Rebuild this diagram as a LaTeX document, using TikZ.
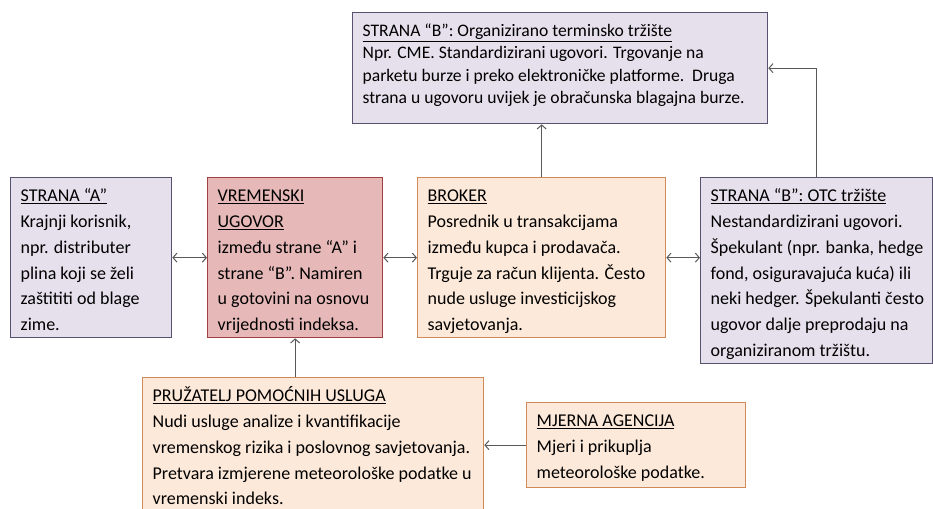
\documentclass[tikz,border=0pt]{standalone}
\usepackage{fontspec}
\setmainfont{Carlito}
\usetikzlibrary{arrows.meta}
\definecolor{lavfill}{HTML}{E5E0EC}
\definecolor{lavdraw}{HTML}{57526F}
\definecolor{redfill}{HTML}{E6B9B8}
\definecolor{reddraw}{HTML}{A0413F}
\definecolor{orfill}{HTML}{FDE9D9}
\definecolor{ordraw}{HTML}{D08A5A}
\definecolor{linkgrey}{HTML}{595959}
\newcommand{\boxtxt}[3]{\parbox[t][#2][t]{#1}{\begin{tabular}[t]{@{}l@{}}#3\end{tabular}}}
\tikzset{
  card/.style={draw=#1, line width=1.3pt, anchor=north west, inner xsep=10pt, inner ysep=6pt,
    font=\fontsize{18}{25.8}\selectfont},
  link/.style={draw=linkgrey, line width=1pt, -{Straight Barb[length=4pt,width=9pt]}},
  dlink/.style={draw=linkgrey, line width=1pt, {Straight Barb[length=4pt,width=9pt]}-{Straight Barb[length=4pt,width=9pt]}}
}
\begin{document}
\begin{tikzpicture}[x=1pt,y=-1pt]
\useasboundingbox (0,0) rectangle (933,508);
\clip (0,0) rectangle (933,508);
%top box
\node[card=lavdraw, fill=lavfill, inner ysep=8pt, font=\fontsize{17.6}{22.5}\selectfont] (orgtr) at (352,12)
  {\boxtxt{395pt}{95pt}{\underline{STRANA “B”: Organizirano terminsko tržište}\\
   Npr. CME. Standardizirani ugovori. Trgovanje na\\
   parketu burze i preko elektroničke platforme.\ \ Druga\\
   strana u ugovoru uvijek je obračunska blagajna burze.}};
%middle row
\node[card=lavdraw, fill=lavfill] (stA) at (10,177)
  {\boxtxt{141pt}{148pt}{\underline{STRANA “A”}\\
   Krajnji korisnik,\\ npr. distributer\\ plina koji se želi\\ zaštititi od blage\\ zime.}};
\node[card=reddraw, fill=redfill] (ugovor) at (207,177)
  {\boxtxt{155pt}{148pt}{\underline{VREMENSKI}\\ \underline{UGOVOR}\\
   između strane “A” i\\ strane “B”. Namiren\\ u gotovini na osnovu\\ vrijednosti indeksa.}};
\node[card=ordraw, fill=orfill] (broker) at (417,177)
  {\boxtxt{228pt}{148pt}{\underline{BROKER}\\
   Posrednik u transakcijama\\ između kupca i prodavača.\\ Trguje za račun klijenta. Često\\
   nude usluge investicijskog\\ savjetovanja.}};
\node[card=lavdraw, fill=lavfill] (otc) at (700,177)
  {\boxtxt{212pt}{174pt}{\underline{STRANA “B”: OTC tržište}\\
   Nestandardizirani ugovori.\\ Špekulant (npr. banka, hedge\\ fond, osiguravajuća kuća) ili\\
   neki hedger. Špekulanti često\\ ugovor dalje preprodaju na\\ organiziranom tržištu.}};
%bottom row
\node[card=ordraw, fill=orfill] (pruz) at (142,377)
  {\boxtxt{321pt}{150pt}{\underline{PRUŽATELJ POMOĆNIH USLUGA}\\
   Nudi usluge analize i kvantifikacije\\ vremenskog rizika i poslovnog savjetovanja.\\
   Pretvara izmjerene meteorološke podatke u\\ vremenski indeks.}};
\node[card=ordraw, fill=orfill] (mjerna) at (526,402)
  {\boxtxt{199pt}{73pt}{\underline{MJERNA AGENCIJA}\\ Mjeri i prikuplja\\ meteorološke podatke.}};
%connectors
\draw[dlink] (stA) -- (ugovor);
\draw[dlink] (ugovor) -- (broker);
\draw[dlink] (broker.east) -- (broker.east -| otc.west);
\draw[link] (broker.north) -- (broker.north |- orgtr.south);
\draw[link] (otc.north) |- (orgtr.east);
\draw[link] (pruz.north -| ugovor.south) -- (ugovor.south);
\draw[link] (mjerna.west) -- (mjerna.west -| pruz.east);
\end{tikzpicture}
\end{document}
